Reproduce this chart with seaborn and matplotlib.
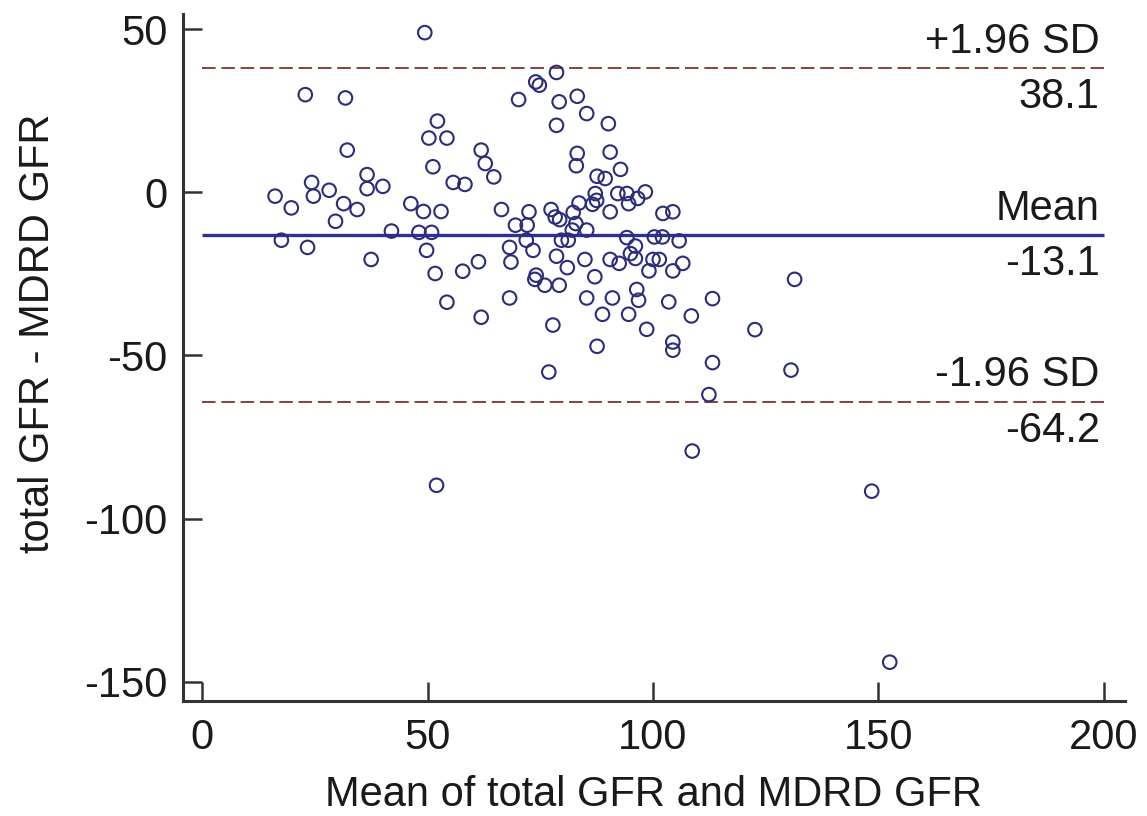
import matplotlib
matplotlib.use("Agg")
import matplotlib.pyplot as plt
import seaborn as sns

# Bland-Altman: total GFR vs MDRD GFR
mean_gfr = [
    49.4, 22.9, 31.8, 32.2, 52.2, 50.3, 54.3, 61.9, 51.2, 36.6,
    24.3, 55.7, 58.3, 36.6, 40.1, 28.2, 16.2, 24.7, 19.8, 31.4,
    34.4, 46.3, 49.1, 53.0, 29.6, 42.0, 48.1, 50.9, 17.6, 23.4,
    49.8, 37.5, 51.7, 57.8, 61.3, 54.3, 61.9,
    78.6, 74.0, 74.8, 70.2, 79.2, 83.2, 85.3, 90.1, 78.6, 62.8,
    64.7, 83.2, 83.0, 90.5, 92.8, 87.6, 89.4, 87.2, 87.5, 86.6,
    92.2, 94.2, 96.6, 98.3, 94.6, 66.4, 72.5, 77.4, 82.3, 83.6,
    90.5, 102.2, 104.4, 69.5, 72.1, 78.3, 79.3, 82.1, 85.3, 82.9,
    71.9, 79.7, 81.2, 94.2, 100.3, 102.1, 105.8, 68.2,
    73.4, 68.5, 78.6, 81.0, 84.9, 90.5, 92.5, 95.0, 96.1, 100.0,
    101.4, 99.1, 104.4, 106.6, 74.1, 73.8, 76.0, 79.2, 87.1, 68.2,
    85.3, 91.0, 96.4, 96.8, 103.5, 77.8, 88.8, 94.6, 98.6, 87.6,
    104.4, 104.4, 76.9, 96.1,
    131.4, 113.2, 108.5, 122.6, 113.2, 130.6, 112.4, 108.7,
    52.0, 148.5, 152.5,
]
diff_gfr = [
    48.9, 29.9, 28.9, 12.9, 21.8, 16.6, 16.6, 12.9, 7.8, 5.4,
    3.0, 3.0, 2.4, 1.1, 1.8, 0.6, -1.2, -1.2, -4.8, -3.5,
    -5.3, -3.5, -5.9, -5.9, -8.9, -11.9, -12.3, -12.3, -14.7, -16.9,
    -17.8, -20.6, -24.9, -24.2, -21.3, -33.7, -38.3,
    36.7, 33.8, 32.8, 28.4, 27.7, 29.4, 24.1, 21.0, 20.5, 8.8,
    4.7, 11.9, 8.1, 12.3, 7.0, 4.9, 4.2, -0.4, -2.5, -3.7,
    -0.4, -0.4, -1.9, 0.1, -3.5, -5.3, -6.0, -5.3, -6.2, -3.3,
    -6.0, -6.5, -6.0, -10.1, -10.1, -7.6, -8.4, -11.6, -11.6, -9.6,
    -14.7, -14.7, -14.7, -13.9, -13.7, -13.7, -14.9, -16.9,
    -17.8, -21.4, -19.6, -23.1, -20.6, -20.6, -21.8, -18.8, -20.3, -20.6,
    -20.6, -24.1, -24.1, -21.8, -25.4, -26.7, -28.5, -28.5, -25.9, -32.4,
    -32.4, -32.4, -29.8, -33.1, -33.6, -40.7, -37.4, -37.4, -42.0, -47.2,
    -45.9, -48.4, -55.1, -16.5,
    -26.7, -32.6, -37.9, -42.1, -52.2, -54.5, -62.0, -79.3,
    -89.8, -91.6, -144.0,
]

line_values = [38.1, -13.1, -64.2]
line_names = ["+1.96 SD", "Mean", "-1.96 SD"]
line_labels = ["38.1", "-13.1", "-64.2"]

x_ticks = [0, 50, 100, 150, 200]
y_ticks = [50, 0, -50, -100, -150]

NAVY = "#2b2c7c"
RED = "#7e3030"
AXIS = "#333333"
TEXT = "#1a1a1a"
FS = 30

sns.set_theme(style="white")
plt.rcParams["font.family"] = ["Liberation Sans", "DejaVu Sans"]
plt.rcParams["axes.unicode_minus"] = False

fig = plt.figure(figsize=(11.47, 8.16), dpi=100)
ax = fig.add_axes([0.1593, 0.1409, 0.8215, 0.8419])

sns.scatterplot(x=mean_gfr, y=diff_gfr, ax=ax, color=NAVY, s=95,
                linewidth=1.5, edgecolor=NAVY, zorder=3)
ax.collections[0].set_facecolor("none")

# mean and limits of agreement
for value, name, label in zip(line_values, line_names, line_labels):
    if name == "Mean":
        ax.hlines(value, 0, 200, color="#2e3192", linewidth=2.4, zorder=2)
    else:
        ax.hlines(value, 0, 200, color=RED, linewidth=1.3,
                  linestyles=(0, (7.5, 3.2)), zorder=2)
    ax.annotate(name, xy=(200, value), xytext=(-3, 11),
                textcoords="offset points", ha="right", va="baseline",
                fontsize=FS, color=TEXT)
    ax.annotate(label, xy=(200, value), xytext=(-3, -29),
                textcoords="offset points", ha="right", va="baseline",
                fontsize=FS, color=TEXT)

ax.set_xlim(-4.28, 204.66)
ax.set_ylim(-155.9, 54.6)
ax.set_xticks(x_ticks)
ax.set_yticks(y_ticks)

for side in ["top", "right"]:
    ax.spines[side].set_visible(False)
for side in ["left", "bottom"]:
    ax.spines[side].set_color(AXIS)
    ax.spines[side].set_linewidth(2.2)

ax.tick_params(bottom=True, left=True, direction="in", length=13.5,
               width=1.8, color=AXIS, labelsize=FS, labelcolor=TEXT)
ax.tick_params(axis="y", pad=11)
ax.tick_params(axis="x", pad=12)

ax.set_xlabel("Mean of total GFR and MDRD GFR", fontsize=FS, color=TEXT)
ax.set_ylabel("total GFR - MDRD GFR", fontsize=FS, color=TEXT)
ax.xaxis.set_label_coords(0.5, -0.108)
ax.yaxis.set_label_coords(-0.132, 0.536)

fig.savefig("out.png", dpi=100)
